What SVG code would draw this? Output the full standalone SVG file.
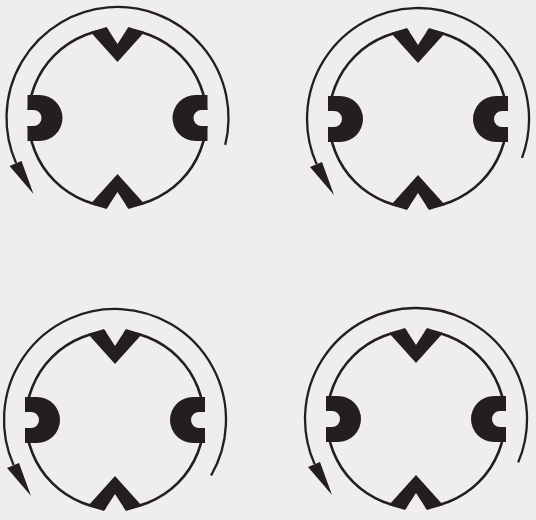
<svg xmlns="http://www.w3.org/2000/svg" xmlns:xlink="http://www.w3.org/1999/xlink" width="536" height="520" viewBox="0 0 536 520">
  <style>
    .ring { fill: none; stroke: #231f20; stroke-width: 2.6; }
    .orbit { fill: none; stroke: #231f20; stroke-width: 2.3; }
    .ink { fill: #231f20; stroke: none; }
    .gap { fill: #efeeec; stroke: none; }
  </style>
  <defs>
    <g id="rotor">
      <circle class="ring" cx="0" cy="0" r="89"/>
      <polygon class="gap" points="-12,-94 12,-94 11,-91 0,-74 -11,-91"/>
      <polygon class="gap" points="-12,94 12,94 11,91 0,74 -11,91"/>
      <path class="gap" d="M -93,-8 L -84,-8 A 8 8 0 0 1 -84,8 L -93,8 Z"/>
      <path class="gap" d="M 93,-8 L 84,-8 A 8 8 0 0 0 84,8 L 93,8 Z"/>
      <polygon class="ink" points="-27,-86 -11,-91 0,-74 11,-91 27,-86 0,-56"/>
      <polygon class="ink" points="-27,86 0,56 27,86 11,91 0,74 -11,91"/>
      <path class="ink" d="M -90,-23 L -78,-23 A 23 23 0 0 1 -78,23 L -90,23 L -90,8 L -84,8 A 8 8 0 0 0 -84,-8 L -90,-8 Z"/>
      <path class="ink" d="M 90,-23 L 78,-23 A 23 23 0 0 0 78,23 L 90,23 L 90,8 L 84,8 A 8 8 0 0 1 84,-8 L 90,-8 Z"/>
    </g>
    <polygon id="head" class="ink" points="-96,43 -84,76 -108,48"/>
  </defs>
  <rect width="536" height="520" fill="#efeeec"/>
  <g id="unit-top-left" transform="translate(117.5,118)">
    <use xlink:href="#rotor"/>
    <path class="orbit" d="M 107.7,26.9 A 111 111 0 1 0 -101.4,45.1"/>
    <use xlink:href="#head"/>
  </g>
  <g id="unit-top-right" transform="translate(418,119)">
    <use xlink:href="#rotor"/>
    <path class="orbit" d="M 104,38.9 A 111 111 0 1 0 -101.4,45.1"/>
    <use xlink:href="#head"/>
  </g>
  <g id="unit-bottom-left" transform="translate(115,420)">
    <use xlink:href="#rotor"/>
    <path class="orbit" d="M 96.1,55.5 A 111 111 0 1 0 -101.4,45.1"/>
    <use xlink:href="#head"/>
  </g>
  <g id="unit-bottom-right" transform="translate(416,419)">
    <use xlink:href="#rotor"/>
    <path class="orbit" d="M 102.2,43.4 A 111 111 0 1 0 -101.4,45.1"/>
    <use xlink:href="#head"/>
  </g>
</svg>
